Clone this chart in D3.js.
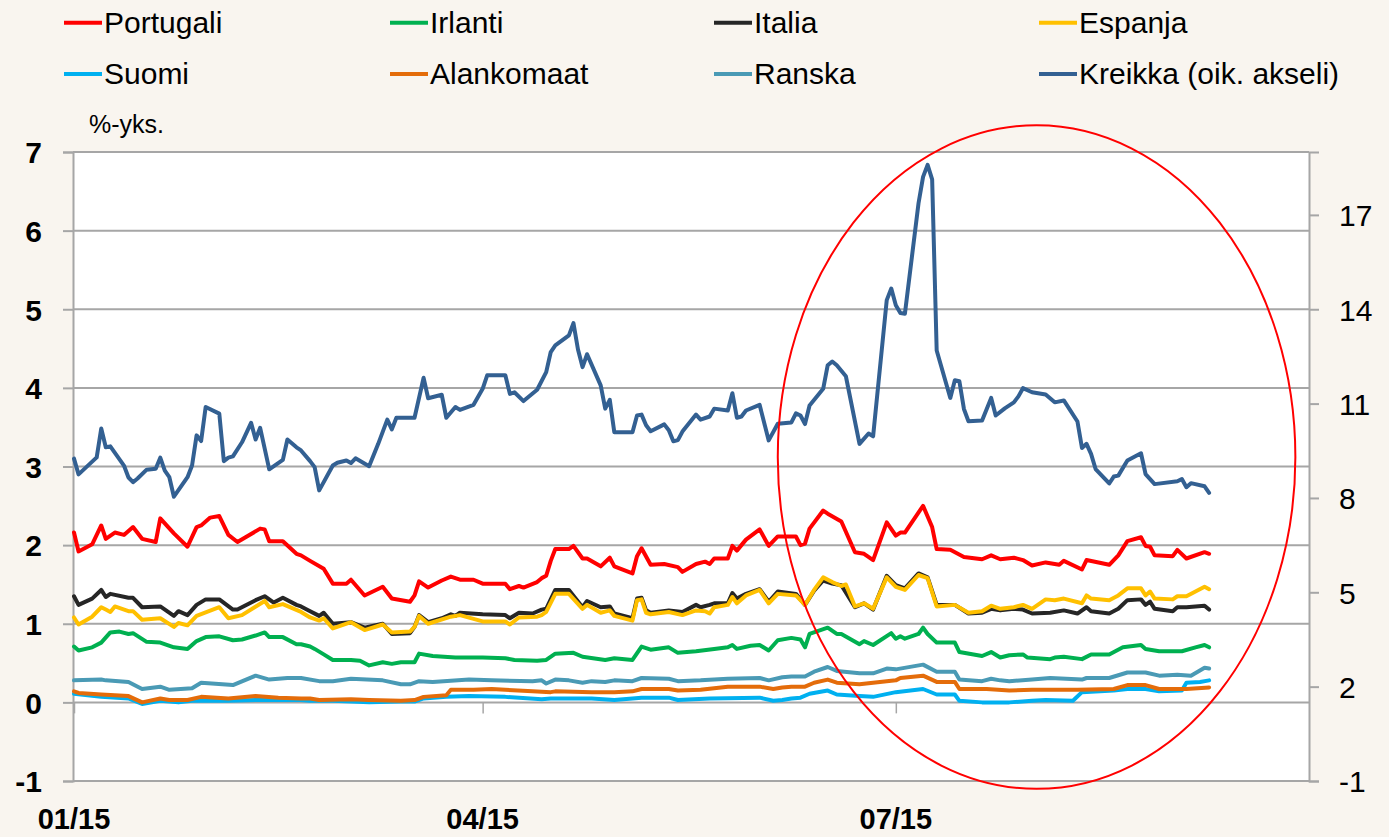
<!DOCTYPE html>
<html><head><meta charset="utf-8">
<script src="https://cdn.jsdelivr.net/npm/d3@7"></script>
<style>
html,body{margin:0;padding:0;background:#f9f5ef;}
svg{display:block;font-family:"Liberation Sans",Arial,sans-serif;}
</style></head>
<body><svg id="chart" width="1389" height="837"></svg>
<script>
// ---- data: [days since 1.1.2015, value] ----
const portugali = [[0,2.16],[1,1.92],[4,2.01],[6,2.25],[7,2.08],[9,2.16],[11,2.13],[13,2.23],[15,2.08],[18,2.04],[19,2.34],[22,2.15],[25,1.98],[27,2.23],[28,2.25],[30,2.35],[32,2.37],[34,2.13],[36,2.04],[41,2.21],[42,2.20],[43,2.05],[46,2.05],[49,1.89],[50,1.87],[52,1.80],[55,1.70],[57,1.51],[60,1.51],[61,1.56],[64,1.36],[68,1.47],[70,1.32],[74,1.28],[75,1.36],[76,1.54],[78,1.46],[81,1.55],[83,1.60],[85,1.56],[88,1.56],[90,1.51],[95,1.51],[96,1.44],[98,1.48],[99,1.46],[102,1.53],[103,1.58],[104,1.61],[105,1.80],[106,1.95],[109,1.95],[110,1.99],[112,1.83],[113,1.83],[116,1.73],[118,1.84],[119,1.73],[123,1.64],[124,1.86],[125,1.96],[127,1.75],[130,1.76],[133,1.72],[134,1.66],[137,1.76],[139,1.79],[140,1.76],[141,1.83],[144,1.83],[145,1.99],[146,1.93],[148,2.07],[151,2.20],[153,1.99],[155,2.11],[159,2.11],[160,2.00],[161,2.02],[162,2.21],[165,2.44],[166,2.40],[169,2.30],[172,1.91],[174,1.89],[176,1.81],[179,2.29],[181,2.12],[182,2.16],[183,2.16],[187,2.50],[189,2.23],[190,1.95],[193,1.94],[196,1.85],[200,1.82],[202,1.87],[204,1.82],[207,1.84],[209,1.81],[211,1.74],[214,1.78],[217,1.75],[218,1.80],[222,1.69],[223,1.81],[228,1.75],[230,1.87],[232,2.05],[235,2.10],[236,1.99],[237,1.98],[238,1.87],[242,1.86],[243,1.94],[245,1.83],[249,1.91],[250,1.89]];
const irlanti = [[0,0.71],[1,0.66],[4,0.70],[6,0.76],[8,0.89],[10,0.90],[12,0.87],[13,0.88],[16,0.77],[19,0.76],[22,0.70],[25,0.68],[27,0.78],[29,0.83],[32,0.84],[35,0.79],[37,0.80],[40,0.85],[42,0.89],[43,0.83],[46,0.83],[49,0.74],[50,0.74],[52,0.71],[53,0.68],[55,0.61],[57,0.54],[61,0.54],[63,0.53],[65,0.47],[68,0.51],[70,0.49],[72,0.51],[75,0.51],[76,0.62],[79,0.59],[84,0.57],[90,0.57],[95,0.56],[97,0.54],[102,0.53],[104,0.54],[106,0.62],[110,0.63],[112,0.58],[117,0.54],[119,0.56],[123,0.54],[125,0.71],[127,0.67],[131,0.70],[133,0.63],[137,0.65],[141,0.68],[144,0.70],[145,0.73],[146,0.68],[149,0.72],[151,0.73],[153,0.66],[155,0.79],[158,0.82],[160,0.80],[161,0.70],[162,0.87],[166,0.95],[168,0.87],[169,0.87],[173,0.74],[174,0.78],[176,0.73],[180,0.88],[181,0.81],[182,0.84],[183,0.81],[186,0.87],[187,0.95],[188,0.87],[190,0.76],[194,0.76],[195,0.64],[200,0.59],[202,0.64],[204,0.57],[206,0.60],[209,0.61],[210,0.57],[215,0.55],[216,0.57],[218,0.58],[222,0.55],[224,0.61],[228,0.61],[231,0.70],[235,0.73],[236,0.68],[239,0.65],[244,0.65],[247,0.70],[249,0.73],[250,0.70]];
const italia = [[0,1.35],[1,1.24],[4,1.32],[6,1.43],[7,1.34],[8,1.38],[12,1.33],[13,1.33],[15,1.21],[19,1.22],[22,1.10],[23,1.16],[25,1.11],[27,1.24],[29,1.31],[32,1.31],[35,1.18],[36,1.18],[40,1.30],[42,1.35],[44,1.27],[46,1.33],[49,1.24],[50,1.22],[52,1.16],[54,1.10],[55,1.14],[57,1.00],[61,1.02],[64,0.95],[68,1.00],[70,0.87],[74,0.88],[75,0.96],[76,1.11],[78,1.02],[81,1.07],[83,1.12],[84,1.10],[85,1.14],[90,1.12],[95,1.11],[96,1.07],[98,1.14],[101,1.13],[103,1.18],[104,1.19],[106,1.43],[109,1.43],[112,1.21],[113,1.29],[116,1.21],[118,1.22],[119,1.13],[123,1.07],[124,1.32],[125,1.33],[126,1.17],[127,1.14],[131,1.17],[134,1.15],[137,1.24],[138,1.21],[140,1.24],[141,1.26],[144,1.26],[145,1.39],[146,1.32],[148,1.38],[151,1.44],[153,1.28],[155,1.41],[159,1.38],[161,1.24],[163,1.42],[165,1.55],[167,1.51],[169,1.49],[172,1.21],[174,1.26],[176,1.18],[179,1.61],[181,1.49],[183,1.45],[186,1.64],[188,1.59],[190,1.24],[194,1.24],[197,1.13],[200,1.14],[202,1.19],[204,1.17],[207,1.19],[209,1.18],[211,1.13],[215,1.14],[218,1.17],[221,1.13],[223,1.21],[224,1.16],[228,1.13],[230,1.19],[232,1.30],[235,1.31],[236,1.24],[237,1.28],[238,1.19],[242,1.16],[243,1.21],[245,1.21],[247,1.22],[249,1.23],[250,1.18]];
const espanja = [[0,1.08],[1,0.99],[4,1.09],[6,1.21],[7,1.18],[8,1.15],[9,1.22],[12,1.16],[13,1.16],[15,1.05],[19,1.07],[22,0.96],[23,1.01],[25,0.98],[27,1.10],[32,1.21],[34,1.07],[37,1.11],[42,1.29],[43,1.21],[46,1.25],[50,1.15],[52,1.08],[54,1.04],[55,1.07],[57,0.94],[61,1.02],[64,0.92],[68,0.99],[70,0.89],[74,0.90],[75,0.96],[76,1.10],[78,1.00],[83,1.09],[85,1.11],[90,1.03],[95,1.03],[96,0.99],[98,1.08],[102,1.09],[103,1.11],[104,1.15],[106,1.38],[109,1.38],[112,1.19],[113,1.24],[116,1.14],[118,1.17],[119,1.10],[123,1.04],[124,1.30],[125,1.31],[126,1.14],[127,1.12],[131,1.15],[134,1.11],[137,1.17],[139,1.16],[140,1.13],[141,1.21],[144,1.24],[145,1.34],[146,1.26],[148,1.36],[151,1.43],[153,1.26],[155,1.38],[159,1.36],[161,1.24],[163,1.43],[165,1.59],[167,1.53],[169,1.48],[170,1.50],[172,1.22],[174,1.26],[176,1.19],[179,1.59],[181,1.47],[183,1.43],[186,1.62],[188,1.58],[190,1.22],[194,1.24],[197,1.14],[200,1.16],[202,1.23],[204,1.19],[207,1.21],[209,1.24],[211,1.19],[214,1.31],[216,1.30],[218,1.32],[222,1.26],[223,1.36],[224,1.32],[228,1.30],[230,1.36],[232,1.45],[235,1.45],[236,1.36],[237,1.41],[238,1.32],[242,1.31],[243,1.35],[245,1.35],[247,1.41],[249,1.47],[250,1.44]];
const suomi = [[0,0.11],[6,0.07],[12,0.05],[15,-0.02],[19,0.02],[23,0.00],[26,0.02],[34,0.02],[40,0.03],[50,0.03],[52,0.02],[57,0.02],[65,0.00],[72,0.01],[75,0.01],[77,0.05],[82,0.07],[87,0.08],[95,0.07],[103,0.04],[105,0.05],[114,0.05],[119,0.03],[125,0.06],[131,0.06],[133,0.03],[140,0.05],[151,0.06],[154,0.02],[156,0.03],[158,0.05],[160,0.06],[162,0.11],[166,0.15],[168,0.10],[173,0.08],[176,0.07],[181,0.13],[187,0.17],[190,0.10],[194,0.10],[195,0.02],[200,0.00],[206,0.00],[211,0.02],[214,0.03],[220,0.02],[222,0.13],[229,0.15],[232,0.17],[236,0.17],[239,0.14],[244,0.15],[245,0.25],[248,0.26],[250,0.28]];
const alankomaat = [[0,0.14],[1,0.12],[6,0.10],[12,0.08],[15,0.00],[19,0.05],[21,0.03],[25,0.03],[28,0.07],[34,0.05],[40,0.08],[45,0.06],[50,0.05],[52,0.05],[54,0.03],[61,0.04],[65,0.03],[72,0.02],[75,0.03],[77,0.07],[82,0.09],[83,0.16],[88,0.16],[92,0.17],[95,0.16],[101,0.14],[105,0.13],[106,0.14],[114,0.13],[119,0.13],[123,0.14],[125,0.17],[131,0.17],[133,0.15],[138,0.16],[144,0.20],[151,0.20],[154,0.17],[156,0.19],[158,0.20],[161,0.20],[163,0.25],[166,0.29],[168,0.25],[173,0.23],[176,0.25],[181,0.28],[182,0.31],[187,0.34],[190,0.26],[194,0.26],[195,0.17],[201,0.17],[206,0.15],[211,0.16],[214,0.16],[221,0.16],[229,0.17],[232,0.22],[236,0.22],[239,0.17],[245,0.17],[250,0.19]];
const ranska = [[0,0.28],[6,0.29],[7,0.28],[12,0.26],[15,0.17],[19,0.20],[21,0.16],[26,0.18],[28,0.25],[35,0.22],[40,0.34],[43,0.29],[47,0.31],[50,0.31],[54,0.27],[57,0.27],[61,0.30],[68,0.28],[72,0.23],[74,0.23],[76,0.27],[79,0.26],[87,0.29],[92,0.28],[101,0.27],[103,0.28],[104,0.24],[106,0.29],[109,0.28],[112,0.25],[114,0.27],[117,0.26],[119,0.28],[123,0.27],[125,0.31],[131,0.30],[133,0.27],[138,0.28],[144,0.30],[151,0.31],[153,0.28],[156,0.32],[158,0.33],[161,0.33],[163,0.39],[166,0.45],[168,0.40],[173,0.37],[176,0.37],[179,0.43],[181,0.42],[187,0.48],[190,0.39],[194,0.39],[195,0.29],[200,0.27],[202,0.30],[204,0.28],[206,0.27],[211,0.29],[215,0.31],[222,0.29],[223,0.31],[228,0.31],[232,0.38],[236,0.38],[239,0.34],[243,0.35],[246,0.34],[249,0.44],[250,0.43]];
const kreikka = [[0,9.25],[1,8.75],[5,9.29],[6,10.21],[7,9.61],[8,9.64],[11,9.03],[12,8.65],[13,8.50],[14,8.62],[16,8.90],[18,8.93],[19,9.28],[20,8.87],[21,8.66],[22,8.04],[25,8.66],[26,9.03],[27,9.99],[28,9.81],[29,10.89],[32,10.68],[33,9.17],[34,9.28],[35,9.32],[37,9.77],[39,10.39],[40,9.86],[41,10.23],[43,8.91],[46,9.21],[47,9.86],[49,9.61],[50,9.51],[52,9.17],[53,8.98],[54,8.24],[57,9.03],[58,9.12],[60,9.19],[61,9.11],[62,9.26],[65,9.01],[67,9.72],[69,10.49],[70,10.18],[71,10.55],[75,10.55],[77,11.82],[78,11.17],[81,11.28],[82,10.55],[84,10.89],[85,10.80],[88,10.96],[90,11.47],[91,11.90],[95,11.90],[96,11.31],[97,11.36],[99,11.08],[102,11.44],[104,12.00],[105,12.64],[106,12.85],[109,13.17],[110,13.56],[111,12.72],[112,12.16],[113,12.57],[116,11.58],[117,10.84],[118,11.12],[119,10.09],[123,10.09],[124,10.62],[125,10.65],[126,10.31],[127,10.12],[130,10.34],[131,10.15],[132,9.80],[133,9.84],[134,10.11],[137,10.65],[138,10.49],[140,10.59],[141,10.84],[144,10.78],[145,11.33],[146,10.55],[147,10.59],[148,10.78],[151,10.96],[153,9.83],[155,10.36],[158,10.40],[159,10.69],[160,10.62],[161,10.35],[162,10.94],[165,11.47],[166,12.22],[167,12.34],[168,12.22],[170,11.87],[173,9.72],[175,10.05],[176,9.96],[179,14.29],[180,14.66],[181,14.13],[182,13.88],[183,13.86],[186,17.37],[187,18.21],[188,18.59],[189,18.13],[190,12.69],[193,11.18],[194,11.74],[195,11.71],[196,10.83],[197,10.44],[200,10.46],[202,11.18],[203,10.62],[205,10.85],[207,11.04],[208,11.23],[209,11.49],[211,11.36],[214,11.29],[216,11.04],[218,11.10],[221,10.43],[222,9.59],[223,9.72],[224,9.40],[225,8.92],[228,8.46],[229,8.68],[230,8.71],[232,9.19],[235,9.42],[236,8.76],[238,8.44],[243,8.53],[244,8.60],[245,8.34],[246,8.47],[249,8.37],[250,8.16]];

const seriesNames = ["Portugali","Irlanti","Italia","Espanja","Suomi","Alankomaat","Ranska","Kreikka (oik. akseli)"];
const seriesColors = ["#ff0000","#00b050","#262626","#ffc000","#00b0f0","#e46c0a","#4a9ab5","#336092"];
const seriesData = [portugali, irlanti, italia, espanja, suomi, alankomaat, ranska, kreikka];
const seriesAxis = ["left","left","left","left","left","left","left","right"];

const leftTicks = [-1,0,1,2,3,4,5,6,7];
const rightTicks = [-1,2,5,8,11,14,17];
const xTickDays = [0, 90, 181];
const xTickLabels = ["01/15","04/15","07/15"];
const unitLabel = "%-yks.";
// highlighted region (red ellipse): centre day/value and half-extents
const highlight = {day: 212, value: 3.12, halfDays: 57, halfValue: 4.22};

// ---- drawing ----
const START = Date.UTC(2015,0,1);
const toDate = d => new Date(START + d*864e5);
const P = {left:73, right:1309, top:152, bottom:781};
const svg = d3.select("#chart");
const FONT = '"Liberation Sans",Arial,sans-serif';
const numFmt = d => String(d); // plain hyphen minus as in the original

const x = d3.scaleUtc().domain([toDate(0), toDate(272)]).range([P.left+1, P.right]);
const yL = d3.scaleLinear().domain([-1,7]).range([P.bottom, P.top]);
const yR = d3.scaleLinear().domain([-1,19]).range([P.bottom, P.top]);

svg.append("rect").attr("width",1389).attr("height",837).attr("fill","#f9f5ef");
svg.append("rect").attr("x",P.left).attr("y",P.top).attr("width",P.right-P.left).attr("height",P.bottom-P.top).attr("fill","#ffffff");

const gridColor = "#a6a6a6";
// gridlines
svg.append("g").selectAll("line").data(leftTicks).join("line")
  .attr("x1",P.left).attr("x2",P.right)
  .attr("y1",d=>yL(d)).attr("y2",d=>yL(d))
  .attr("stroke",gridColor).attr("stroke-width",2);

// left axis
const gL = svg.append("g").attr("transform",`translate(${P.left},0)`)
  .call(d3.axisLeft(yL).tickValues(leftTicks).tickSize(10).tickPadding(21).tickFormat(numFmt));
gL.select(".domain").attr("stroke",gridColor).attr("stroke-width",2);
gL.selectAll(".tick line").attr("stroke",gridColor).attr("stroke-width",2);
gL.selectAll(".tick text").attr("font-family",FONT).attr("font-size",30).attr("font-weight","bold").attr("fill","#000").attr("dy","0.36em");

// right axis
const gR = svg.append("g").attr("transform",`translate(${P.right},0)`)
  .call(d3.axisRight(yR).tickValues(rightTicks).tickSize(10).tickPadding(20).tickFormat(numFmt));
gR.select(".domain").attr("stroke",gridColor).attr("stroke-width",2);
gR.selectAll(".tick line").attr("stroke",gridColor).attr("stroke-width",2);
gR.selectAll(".tick text").attr("font-family",FONT).attr("font-size",30).attr("fill","#000").attr("dy","0.36em");

// x axis ticks on zero line
const gX = svg.append("g").attr("transform",`translate(0,${yL(0)})`)
  .call(d3.axisBottom(x).tickValues(xTickDays.map(toDate)).tickSize(11).tickFormat(""));
gX.select(".domain").remove();
gX.selectAll(".tick line").attr("stroke",gridColor).attr("stroke-width",1.5);

// x labels at bottom
svg.append("g").selectAll("text").data(xTickDays).join("text")
  .attr("x",(d)=>x(toDate(d))).attr("y",829)
  .attr("text-anchor","middle").attr("font-family",FONT).attr("font-size",29).attr("font-weight","bold")
  .text((d,i)=>xTickLabels[i]);

// unit label
svg.append("text").attr("x",89).attr("y",133).attr("font-family",FONT).attr("font-size",25).text(unitLabel);

// lines
const lineFor = axis => d3.line().x(d=>x(toDate(d[0]))).y(d=>(axis==="right"?yR:yL)(d[1]));
seriesData.forEach((data,i)=>{
  svg.append("path").datum(data)
    .attr("d", lineFor(seriesAxis[i]))
    .attr("fill","none").attr("stroke",seriesColors[i]).attr("stroke-width",4)
    .attr("stroke-linejoin","round").attr("stroke-linecap","round");
});

// highlight ellipse
svg.append("ellipse")
  .attr("cx", x(toDate(highlight.day))).attr("cy", yL(highlight.value))
  .attr("rx", x(toDate(highlight.day+highlight.halfDays)) - x(toDate(highlight.day)))
  .attr("ry", yL(highlight.value - highlight.halfValue) - yL(highlight.value))
  .attr("fill","none").attr("stroke","#ff0000").attr("stroke-width",2);

// legend
const legX = [64, 390, 714, 1039];
const legY = [22.7, 74];
const leg = svg.append("g").selectAll("g").data(seriesNames).join("g")
  .attr("transform",(d,i)=>`translate(${legX[i%4]},${legY[Math.floor(i/4)]})`);
leg.append("line").attr("x1",0).attr("x2",38).attr("y1",0).attr("y2",0)
  .attr("stroke",(d,i)=>seriesColors[i]).attr("stroke-width",4);
leg.append("text").attr("x",40).attr("y",10).attr("font-family",FONT).attr("font-size",30).attr("fill","#000").text(d=>d);
</script>
</body></html>
